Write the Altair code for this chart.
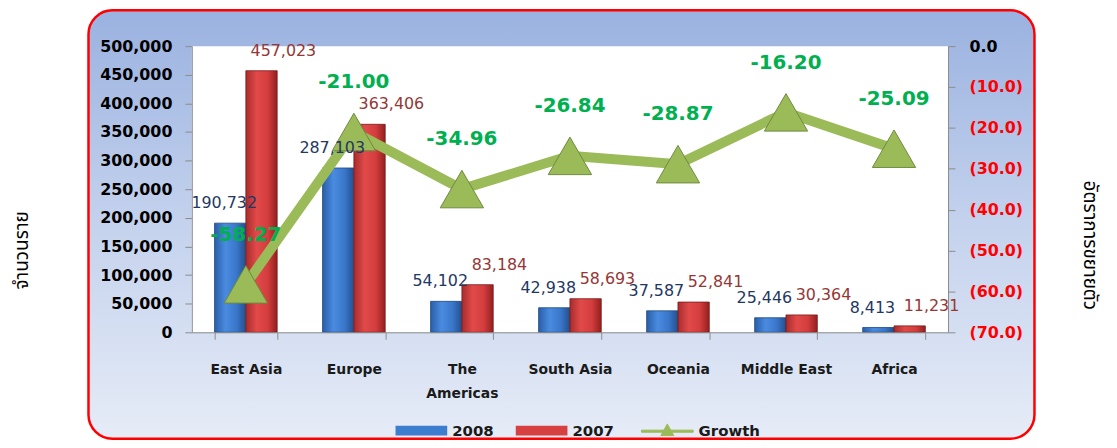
import altair as alt
import pandas as pd

categories = ["East Asia", "Europe", "The Americas", "South Asia", "Oceania", "Middle East", "Africa"]
values_2008 = [190732, 287103, 54102, 42938, 37587, 25446, 8413]
values_2007 = [457023, 363406, 83184, 58693, 52841, 30364, 11231]
growth = [-58.27, -21.00, -34.96, -26.84, -28.87, -16.20, -25.09]
bar_series = ["2008", "2007"]
line_series = ["Growth"]
left_ticks = list(range(0, 500001, 50000))
right_ticks = [-70, -60, -50, -40, -30, -20, -10, 0]

rows = []
for c, a, b in zip(categories, values_2008, values_2007):
    rows.append({"category": c, "series": "2008", "value": a})
    rows.append({"category": c, "series": "2007", "value": b})
bars_df = pd.DataFrame(rows)
growth_df = pd.DataFrame({"category": categories, "growth": growth, "series": "Growth"})
one = pd.DataFrame({"k": [0]})

W, H = 761, 288
FONT = "DejaVu Sans"
THAI = "Noto Sans Thai, Tahoma, Loma, Garuda, DejaVu Sans, sans-serif"
AXC = "#8c8c8c"

x_enc = alt.X(
    "category:N", sort=categories,
    scale=alt.Scale(paddingInner=0.42, paddingOuter=0.21),
    axis=alt.Axis(title=None, labelAngle=0, labelFont=FONT, labelFontWeight="bold",
                  labelFontSize=14, labelColor="#1a1a1a", labelPadding=30,
                  tickBand="extent", tickSize=7, domainColor=AXC, tickColor=AXC,
                  labelExpr="datum.label == 'The Americas' ? ['The', 'Americas'] : datum.label",
                  labelLineHeight=25, labelBaseline="middle", zindex=1),
)
xo = alt.XOffset("series:N", scale=alt.Scale(domain=bar_series))

y_scale_left = alt.Scale(domain=[0, 500000], nice=False)
y_left = alt.Y(
    "value:Q", scale=y_scale_left,
    axis=alt.Axis(values=left_ticks, labelExpr="format(datum.value, ',')", grid=False, title="จำนวนราย",
                  labelFont=FONT, labelFontSize=16, labelFontWeight="bold", labelColor="black",
                  labelPadding=13, tickSize=7, tickColor=AXC, domainColor=AXC,
                  titleFont=THAI, titleFontSize=19, titleFontWeight="normal", titleColor="black",
                  titleAngle=-90, titleX=-171, titleY=205, titleAlign="center",
                  titleBaseline="middle", zindex=1),
)
y_left_noaxis = alt.Y("value:Q", scale=y_scale_left, axis=None)
y_right = alt.Y(
    "growth:Q", scale=alt.Scale(domain=[-70, 0], nice=False),
    axis=alt.Axis(orient="right", values=right_ticks, grid=False, title="อัตราการขยายตัว",
                  labelExpr="datum.value == 0 ? '0.0' : '(' + format(abs(datum.value), '.1f') + ')'",
                  labelColor={"condition": {"test": "datum.value == 0", "value": "black"}, "value": "#FF0000"},
                  labelFont=FONT, labelFontSize=16, labelFontWeight="bold",
                  labelPadding=14, tickSize=7, tickColor=AXC, domainColor=AXC,
                  titleFont=THAI, titleFontSize=19, titleFontWeight="normal", titleColor="black",
                  titleAngle=90, titleX=142, titleY=200, titleAlign="center",
                  titleBaseline="middle", zindex=1),
)

def hgrad(c0, c1, c2, c3):
    return alt.LinearGradient(
        gradient="linear", x1=0, x2=1, y1=0, y2=0,
        stops=[alt.GradientStop(offset=0, color=c0), alt.GradientStop(offset=0.35, color=c1),
               alt.GradientStop(offset=0.7, color=c2), alt.GradientStop(offset=1, color=c3)])

blue_grad = hgrad("#2A5EA8", "#4A8BE0", "#3A77CB", "#22508F")
red_grad = hgrad("#A82C2C", "#E24A4A", "#D43D3D", "#931F1F")
panel_grad = alt.LinearGradient(
    gradient="linear", x1=0, x2=0, y1=0, y2=1,
    stops=[alt.GradientStop(offset=0, color="#9AB2E0"), alt.GradientStop(offset=0.5, color="#C4D2ED"),
           alt.GradientStop(offset=1, color="#E6ECF7")])

panel = alt.Chart(one).mark_rect(fill=panel_grad, stroke="#FF0000", strokeWidth=2.5, cornerRadius=24).encode(
    x=alt.value(-104), x2=alt.value(848), y=alt.value(-36), y2=alt.value(395))
plotbg = alt.Chart(one).mark_rect(fill="white").encode(
    x=alt.value(0), x2=alt.value(W), y=alt.value(0), y2=alt.value(H))

blue = alt.Chart(bars_df).transform_filter("datum.series == '2008'").mark_bar(
    fill=blue_grad, stroke="#1F497D", strokeWidth=0.8).encode(x=x_enc, xOffset=xo, y=y_left)
red = alt.Chart(bars_df).transform_filter("datum.series == '2007'").mark_bar(
    fill=red_grad, stroke="#7A1A1A", strokeWidth=0.8).encode(x=x_enc, xOffset=xo, y=y_left)

# invisible points carrying the bar legend
bar_legend = alt.Chart(bars_df).mark_point(filled=True, size=0).encode(
    x=x_enc, xOffset=xo, y=y_left,
    fill=alt.Fill("series:N", scale=alt.Scale(domain=bar_series, range=["#3C7DD0", "#D64040"]),
                  legend=alt.Legend(title=None, orient="none", direction="horizontal",
                                    legendX=205, legendY=361, labelFont=FONT, labelFontSize=15,
                                    labelFontWeight="bold", labelColor="#1a1a1a", labelOffset=5,
                                    columnPadding=22, symbolSize=2704,
                                    symbolType="M-1,-0.19H1V0.19H-1Z", symbolStrokeWidth=0,
                                    symbolOpacity=1, zindex=1)))

blue_text = alt.Chart(bars_df).transform_filter("datum.series == '2008'").mark_text(
    dx=-6, dy=-20, fontSize=16, font=FONT, color="#1F3864", baseline="middle").encode(
    x=x_enc, xOffset=xo, y=y_left_noaxis, text=alt.Text("value:Q", format=","))
red_text = alt.Chart(bars_df).transform_filter("datum.series == '2007'").mark_text(
    dx=22, dy=-20, fontSize=16, font=FONT, color="#953735", baseline="middle").encode(
    x=x_enc, xOffset=xo, y=y_left_noaxis, text=alt.Text("value:Q", format=","))

line = alt.Chart(growth_df).mark_line(strokeWidth=10).encode(
    x=x_enc, y=y_right,
    color=alt.Color("series:N", scale=alt.Scale(domain=line_series, range=["#9BBB59"]),
                    legend=alt.Legend(title=None, orient="none", direction="horizontal",
                                      legendX=452, legendY=361, labelFont=FONT, labelFontSize=15,
                                      labelFontWeight="bold", labelColor="#1a1a1a", labelOffset=5,
                                      symbolSize=2704, symbolFillColor="#9BBB59",
                                      symbolType="M-1,-0.04H1V0.04H-1Z M-0.25,0.17L0,-0.28L0.25,0.17Z",
                                      symbolStrokeWidth=1, symbolOpacity=1, zindex=1)))
points = alt.Chart(growth_df).mark_point(shape="triangle-up", filled=True, size=1900, fill="#9BBB59",
                                         stroke="#6E8B3D", strokeWidth=1, opacity=1).encode(x=x_enc, y=y_right)
growth_text = alt.Chart(growth_df).transform_calculate(
    lbl="replace(format(datum.growth, '.2f'), '\u2212', '-')").mark_text(
    dy=-50, fontSize=20, fontWeight="bold", font=FONT, color="#00B050", baseline="middle").encode(
    x=x_enc, y=y_right, text="lbl:N")

bg = alt.layer(panel, plotbg)
bar_layer = alt.layer(blue, red, bar_legend)
line_layer = alt.layer(line, points, growth_text)
text_layer = alt.layer(blue_text, red_text)

chart = alt.layer(bg, bar_layer, line_layer, text_layer).resolve_scale(y="independent").properties(
    width=W, height=H,
    autosize=alt.AutoSizeParams(type="none"),
    padding={"left": 185, "top": 37, "right": 162, "bottom": 107},
).configure_view(strokeWidth=0)

chart.save("out.html", embed_options={"renderer": "svg", "actions": False})
